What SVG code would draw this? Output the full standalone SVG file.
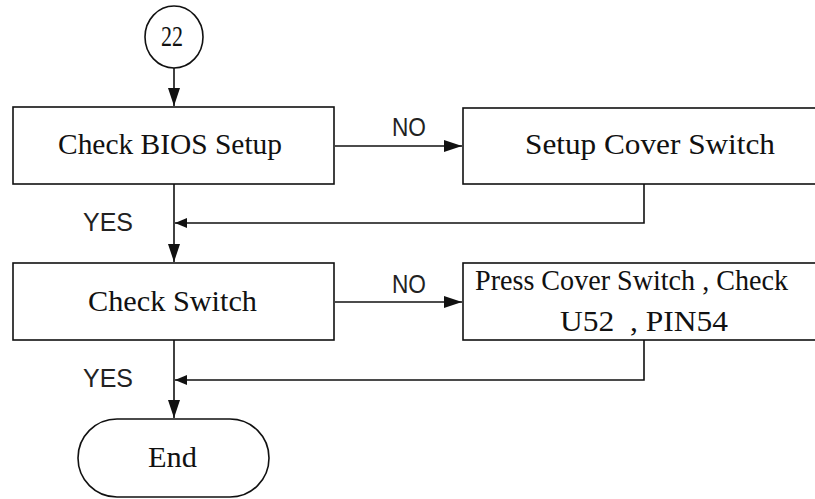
<svg xmlns="http://www.w3.org/2000/svg" width="815" height="499" viewBox="0 0 815 499">
<style>
.box{fill:#fff;stroke:#111;stroke-width:1.6}
.ln{fill:none;stroke:#111;stroke-width:1.6}
.mono{font-family:"Liberation Serif","DejaVu Serif",serif;font-size:30px;fill:#111}
.lab{font-family:"Liberation Sans","DejaVu Sans",sans-serif;font-size:25px;fill:#222}
</style>
<defs>
<marker id="big" markerUnits="userSpaceOnUse" markerWidth="20" markerHeight="14" refX="18" refY="7" orient="auto">
<path d="M0,1 L18,7 L0,13 Z" fill="#111"/>
</marker>
<marker id="small" markerUnits="userSpaceOnUse" markerWidth="14" markerHeight="12" refX="12" refY="6" orient="auto">
<path d="M0,1 L12,6 L0,11 Z" fill="#111"/>
</marker>
</defs>
<rect width="815" height="499" fill="#fff"/>
<g id="connectors">
<path class="ln" d="M174,68 L174,106" marker-end="url(#big)"/>
<path class="ln" d="M335,146 L462,146" marker-end="url(#big)"/>
<path class="ln" d="M644,184 L644,223 L175,223" marker-end="url(#small)"/>
<path class="ln" d="M174,184 L174,262" marker-end="url(#big)"/>
<path class="ln" d="M335,302 L462,302" marker-end="url(#big)"/>
<path class="ln" d="M644,340 L644,380 L175,380" marker-end="url(#small)"/>
<path class="ln" d="M174,340 L174,418" marker-end="url(#big)"/>
<text class="lab" x="392" y="136" textLength="34" lengthAdjust="spacingAndGlyphs">NO</text>
<text class="lab" x="392" y="293" textLength="34" lengthAdjust="spacingAndGlyphs">NO</text>
<text class="lab" x="83" y="231" textLength="50" lengthAdjust="spacingAndGlyphs">YES</text>
<text class="lab" x="83" y="387" textLength="50" lengthAdjust="spacingAndGlyphs">YES</text>
</g>
<g id="start">
<ellipse class="box" cx="174" cy="37" rx="29" ry="31"/>
<text class="mono" x="161" y="46" font-size="26" textLength="22" lengthAdjust="spacingAndGlyphs" font-family="Liberation Sans, sans-serif">22</text>
</g>
<g id="checkBios">
<rect class="box" x="13" y="107" width="321" height="77"/>
<text class="mono" x="58" y="154" textLength="224" lengthAdjust="spacingAndGlyphs">Check BIOS Setup</text>
</g>
<g id="setupCover">
<rect class="box" x="463" y="108" width="360" height="76"/>
<text class="mono" x="525" y="154" textLength="250" lengthAdjust="spacingAndGlyphs">Setup Cover Switch</text>
</g>
<g id="checkSwitch">
<rect class="box" x="13" y="263" width="321" height="77"/>
<text class="mono" x="88" y="311" textLength="169" lengthAdjust="spacingAndGlyphs">Check Switch</text>
</g>
<g id="pressCover">
<rect class="box" x="463" y="263" width="360" height="77"/>
<text class="mono" x="475" y="290" textLength="313" lengthAdjust="spacingAndGlyphs">Press Cover Switch , Check</text>
<text class="mono" x="560" y="331" textLength="168" lengthAdjust="spacingAndGlyphs" xml:space="preserve">U52  , PIN54</text>
</g>
<g id="end">
<rect class="box" x="78" y="419" width="191" height="78" rx="39" ry="39"/>
<text class="mono" x="148" y="467" textLength="49" lengthAdjust="spacingAndGlyphs">End</text>
</g>
</svg>
